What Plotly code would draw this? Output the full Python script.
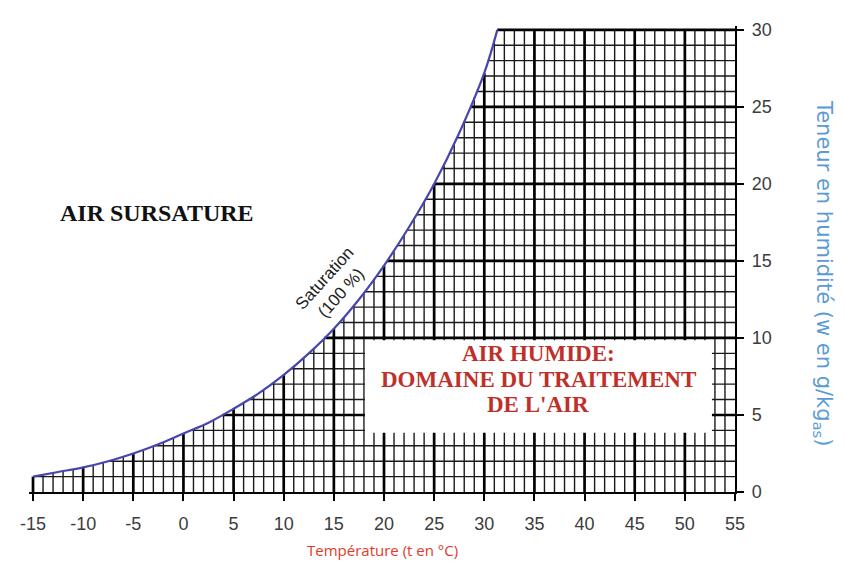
import numpy as np
import plotly.graph_objects as go

# Saturation curve (100 % relative humidity)
sat_temp = [-15, -12.5, -10, -7.5, -5, -2.5, 0, 2.5, 5, 7.5, 10, 12.5, 15, 17.5,
            20, 22.5, 25, 27.5, 30, 31.3]
sat_w = [1.0, 1.3, 1.6, 2.0, 2.5, 3.1, 3.8, 4.5, 5.4, 6.4, 7.6, 9.0, 10.6, 12.5,
         14.7, 17.2, 20.0, 23.3, 27.2, 30.0]

# Axes
x_ticks = [-15, -10, -5, 0, 5, 10, 15, 20, 25, 30, 35, 40, 45, 50, 55]
x_tick_labels = ["-15", "-10", "-5", "0", "5", "10", "15", "20", "25", "30",
                 "35", "40", "45", "50", "55"]
y_ticks = [0, 5, 10, 15, 20, 25, 30]
y_tick_labels = ["0", "5", "10", "15", "20", "25", "30"]

T_MIN, T_MAX = -15, 55
W_MIN, W_MAX = 0, 30

temps = np.arange(T_MIN, T_MAX + 1, 1)
hums = np.arange(W_MIN, W_MAX + 1, 1)

humid_lines = ["AIR HUMIDE:", "DOMAINE DU TRAITEMENT", "DE L'AIR"]


def vertical_lines(ts):
    xs, ys = [], []
    for t in ts:
        top = min(float(np.interp(t, sat_temp, sat_w)), W_MAX)
        xs += [t, t, None]
        ys += [W_MIN, top, None]
    return xs, ys


def horizontal_lines(ws):
    xs, ys = [], []
    for w in ws:
        left = float(np.interp(w, sat_w, sat_temp))
        xs += [left, T_MAX, None]
        ys += [w, w, None]
    return xs, ys


v_major = [t for t in temps if t % 5 == 0 and t != T_MAX]
v_minor = [t for t in temps if t % 5 != 0]
h_major = [w for w in hums if w % 5 == 0 and w != W_MIN]
h_minor = [w for w in hums if w % 5 != 0]

fig = go.Figure()

for lines_fn, vals, width, color in [
    (vertical_lines, v_minor, 1.4, "#1a1a1a"),
    (horizontal_lines, h_minor, 1.4, "#1a1a1a"),
    (vertical_lines, v_major, 2.7, "#000000"),
    (horizontal_lines, h_major, 2.7, "#000000"),
]:
    xs, ys = lines_fn(vals)
    fig.add_trace(go.Scatter(x=xs, y=ys, mode="lines",
                             line=dict(color=color, width=width),
                             hoverinfo="skip", showlegend=False))

fig.add_trace(go.Scatter(x=sat_temp, y=sat_w, mode="lines",
                         line=dict(color="#4646ac", width=2.2, shape="spline"),
                         showlegend=False, name="Saturation"))

tick_font = dict(family="Liberation Sans, Arial, sans-serif", size=18, color="#3c3c3c")

fig.update_layout(
    width=844, height=570, autosize=False,
    margin=dict(l=18, r=117, t=12, b=86),
    paper_bgcolor="white", plot_bgcolor="white",
    showlegend=False,
    xaxis=dict(range=[-15.4, 55], showgrid=False, zeroline=False,
               showline=True, linewidth=2.4, linecolor="black",
               ticks="outside", ticklen=7, tickwidth=2.2, tickcolor="black",
               tickmode="array", tickvals=x_ticks, ticktext=x_tick_labels,
               tickfont=tick_font, ticklabelstandoff=7),
    yaxis=dict(range=[0, 30.25], side="right", showgrid=False, zeroline=False,
               showline=True, linewidth=2.4, linecolor="black",
               ticks="outside", ticklen=7, tickwidth=2.2, tickcolor="black",
               tickmode="array", tickvals=y_ticks, ticktext=y_tick_labels,
               tickfont=tick_font, ticklabelstandoff=4),
)

# white label box over the grid
fig.add_shape(type="rect", xref="x", yref="y", x0=18.1, x1=52.7, y0=3.85, y1=9.85,
              fillcolor="white", line=dict(width=0), layer="above")

serif = "Liberation Serif, Times New Roman, serif"
fig.add_annotation(x=-2.6, y=18.1, xref="x", yref="y", showarrow=False,
                   text="<b>AIR SURSATURE</b>",
                   font=dict(family=serif, size=24, color="#111111"))
for line_text, y_pos in zip(humid_lines, [8.97, 7.31, 5.71]):
    fig.add_annotation(x=35.4, y=y_pos, xref="x", yref="y", showarrow=False,
                       text="<b>" + line_text + "</b>",
                       font=dict(family=serif, size=23, color="#c0302a"))
fig.add_annotation(x=14.9, y=13.4, xref="x", yref="y", showarrow=False,
                   text="Saturation<br>(100 %)", textangle=-48,
                   font=dict(family="Liberation Sans, Arial, sans-serif", size=17,
                             color="#222222"))
fig.add_annotation(x=0.5, y=-0.125, xref="paper", yref="paper", showarrow=False,
                   text="Température (t en °C)", yanchor="middle",
                   font=dict(family="Open Sans, sans-serif", size=15, color="#e03a2c"))
fig.add_annotation(x=1.146, y=0.47, xref="paper", yref="paper", showarrow=False,
                   text="Teneur en humidité (w en g/kg<sub>as</sub>)", textangle=90,
                   font=dict(family="DejaVu Sans, sans-serif", size=21, color="#5b9bd5"))

fig.write_html("out.html")
